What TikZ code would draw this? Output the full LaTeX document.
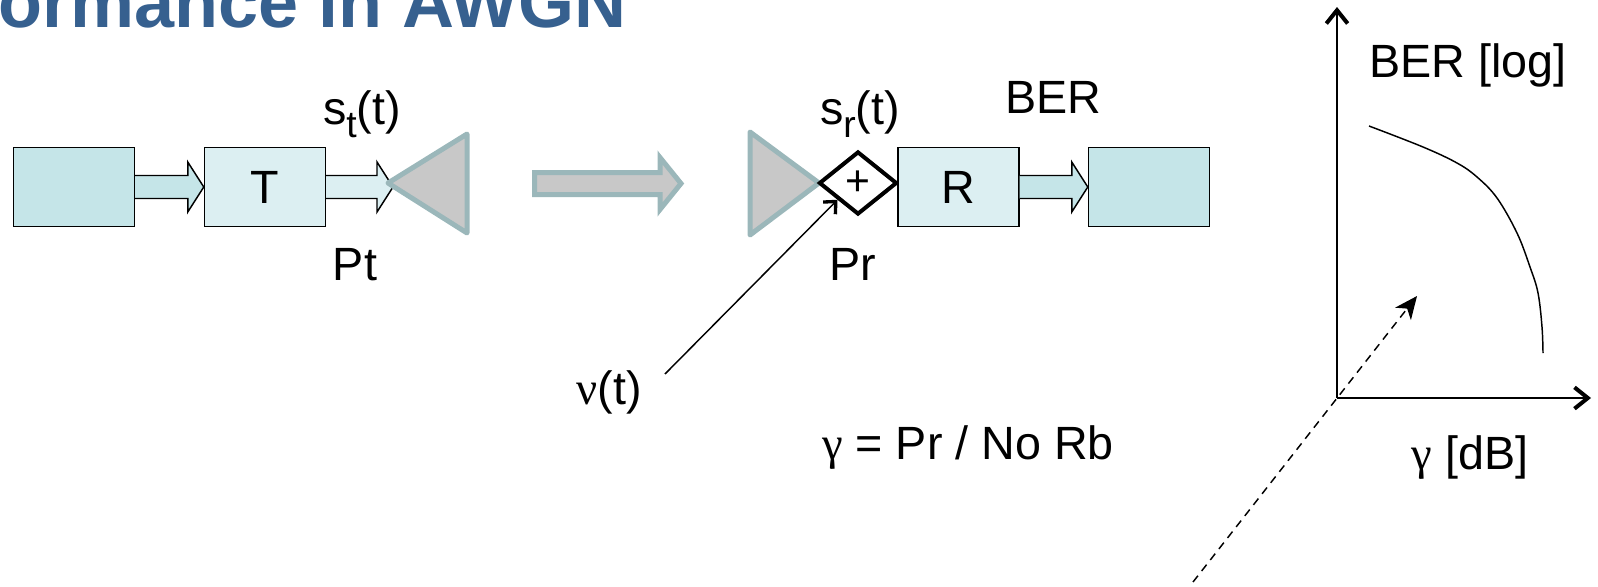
\documentclass[tikz,border=0pt]{standalone}
\usepackage{fontspec}
\setmainfont{Liberation Sans}
\newfontfamily\grk{Liberation Serif}
\usetikzlibrary{arrows.meta,shapes.geometric,calc}
\definecolor{titleblue}{HTML}{36608F}
\definecolor{cyanA}{HTML}{C5E5E8}
\definecolor{cyanB}{HTML}{DCEFF2}
\definecolor{antgray}{HTML}{C8C8C8}
\definecolor{antedge}{HTML}{9BB7BA}
\newcommand\blockarrow[3]{%
  \draw[blk, fill=#3] ($(#1)+(0,-11.5)$) -- ($(#2)+(-16,-11.5)$) -- ($(#2)+(-16,-25)$) -- (#2)
    -- ($(#2)+(-16,25)$) -- ($(#2)+(-16,11.5)$) -- ($(#1)+(0,11.5)$);}
\begin{document}
\begin{tikzpicture}[x=0.75pt,y=-0.75pt,
  lbl/.style={font=\fontsize{35}{42}\selectfont, inner sep=0pt},
  boxA/.style={draw=black, line width=1.1pt, fill=cyanA, minimum width=90.75pt, minimum height=59.25pt, inner sep=0pt},
  boxB/.style={boxA, fill=cyanB, font=\fontsize{35}{42}\selectfont},
  blk/.style={draw=black, line width=1.1pt, line join=miter},
  ant/.style={draw=antedge, fill=antgray, line width=3.75pt, line join=round},
  ax/.style={line width=1.5pt, -{Straight Barb[length=10pt,width=16pt,line width=3pt]}}
]
\useasboundingbox (0,0) rectangle (1598,586);
\clip (0,0) rectangle (1598,586);

% title
\node[font=\fontsize{54}{60}\selectfont\bfseries, text=titleblue, anchor=base east, inner sep=0pt] (title) at (627,27) {ormance in AWGN};

% transmitter chain
\node[boxA] (b1) at (74,187) {};
\node[boxB] (T) at (265,187) {T};
\coordinate (a2end) at (393,187);
\blockarrow{b1.east}{T.west}{cyanA}
\blockarrow{T.east}{a2end}{cyanB}
\coordinate (ant1) at (388,183);
\draw[ant] (ant1) -- (467,134) -- (467,233) -- cycle;

\node[lbl, anchor=base] (st) at (362,124) {s\raisebox{-0.28em}{\fontsize{28}{28}\selectfont t}(t)};
\node[lbl, anchor=base] (pt) at (355,280) {Pt};

% propagation arrow
\draw[ant, line join=miter] (534.5,172.5) -- (660,172.5) -- (660,157.5) -- (681,183.5) -- (660,209.5) -- (660,194.5) -- (534.5,194.5) -- cycle;

% receiver
\coordinate (ant2) at (819,183);
\draw[ant] (ant2) -- (750,132) -- (750,235) -- cycle;
\node[draw, diamond, line width=3pt, fill=white, minimum width=58.5pt, minimum height=47.25pt, inner sep=0pt, font=\fontsize{32}{32}\selectfont] (sum) at (858,183) {+};
\node[boxB] (R) at (958.5,187) {R};
\node[boxA] (b4) at (1149,187) {};
\blockarrow{R.east}{b4.west}{cyanA}

\node[lbl, anchor=base] (sr) at (860,124) {s\raisebox{-0.28em}{\fontsize{28}{28}\selectfont r}(t)};
\node[lbl, anchor=base] (pr) at (853,280) {Pr};
\node[lbl, anchor=base] (ber) at (1053,113) {BER};

% noise
\node[lbl, anchor=base] (nu) at (609,404) {{\grk ν}(t)};
\coordinate (nstart) at (665,374);
\draw[line width=1.1pt, -{Straight Barb[length=7pt,width=13pt,line width=2.5pt]}] (nstart) -- (sum.south west);

\node[lbl, anchor=base] (snr) at (968,459) {{\grk γ} = Pr / No Rb};

% BER plot
\coordinate (O) at (1337,398);
\coordinate (ytop) at (1337,7);
\coordinate (xend) at (1591,398);
\coordinate (d0) at (1193,582);
\coordinate (d1) at (1417,296);
\draw[dash pattern=on 6pt off 4.5pt, line width=1.1pt, -{Stealth[length=17pt,width=15pt,inset=5pt]}] (d0) -- (d1);
\draw[ax] (O) -- (ytop);
\draw[ax] (O) -- (xend);
\draw[line width=1.1pt] plot[smooth, tension=0.6] coordinates {(1369,126) (1423,147) (1457,163) (1477,177) (1497,198) (1517,233) (1530,267) (1538,293) (1542,327) (1543,353)};
\node[lbl, anchor=base] (berlog) at (1468,77) {BER [log]};
\node[lbl, anchor=base] (gdb) at (1470,469) {{\grk γ} [dB]};
\end{tikzpicture}
\end{document}
